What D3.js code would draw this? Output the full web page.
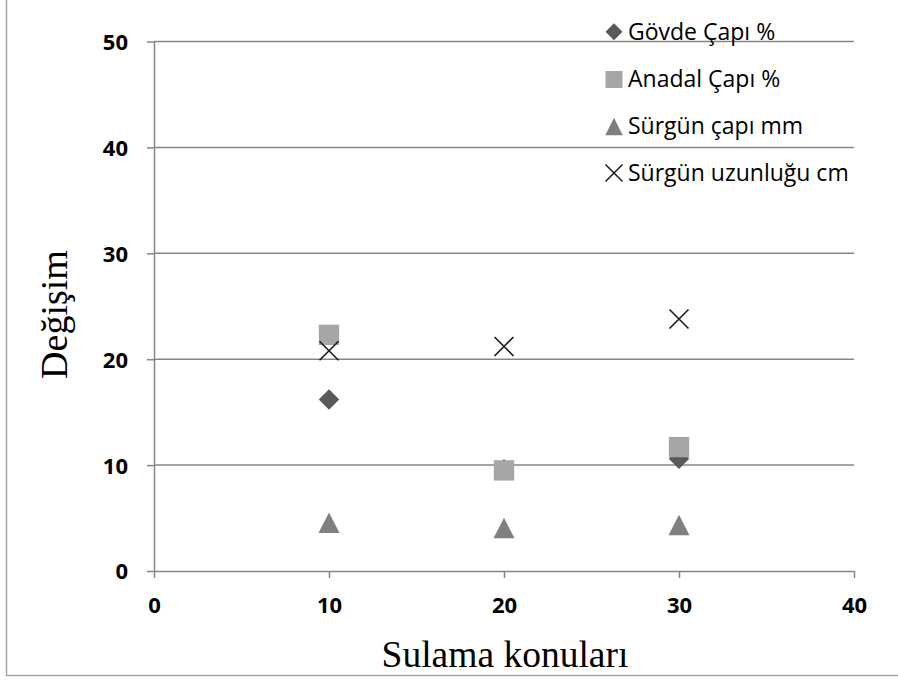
<!DOCTYPE html>
<html><head><meta charset="utf-8">
<script src="https://cdn.jsdelivr.net/npm/d3@7"></script>
<style>body{margin:0;background:#fff}svg{display:block}</style>
</head><body>
<svg id="c" width="898" height="682"></svg>
<script>
const xCats = [10, 20, 30];
const govde = [16.2, 9.6, 10.6];
const anadal = [22.3, 9.5, 11.7];
const surgunCap = [4.56, 4.05, 4.35];
const surgunUzun = [20.8, 21.2, 23.8];
const xTicks = [0, 10, 20, 30, 40];
const yTicks = [0, 10, 20, 30, 40, 50];
const seriesNames = ["Gövde Çapı %", "Anadal Çapı %", "Sürgün çapı mm", "Sürgün uzunluğu cm"];

const svg = d3.select("#c");
const x = d3.scaleLinear().domain([0, 40]).range([154, 854]);
const y = d3.scaleLinear().domain([0, 50]).range([571, 41.5]);

// outer border
svg.append("path").attr("d","M6.5,0 V675.5 H898").attr("fill","none").attr("stroke","#a6a6a6").attr("stroke-width",1.5);

// gridlines
svg.append("g").selectAll("line").data(yTicks.filter(d=>d>0)).join("line")
  .attr("x1", x(0)).attr("x2", x(40)).attr("y1", d=>y(d)).attr("y2", d=>y(d))
  .attr("stroke","#868686").attr("stroke-width",1.5);

const font = "'Open Sans', 'Liberation Sans', sans-serif";
const yAxis = svg.append("g").attr("transform",`translate(${x(0)},0)`)
  .call(d3.axisLeft(y).tickValues(yTicks).tickSize(7).tickPadding(19).tickSizeOuter(0));
const xAxis = svg.append("g").attr("transform",`translate(0,${y(0)})`)
  .call(d3.axisBottom(x).tickValues(xTicks).tickSize(7).tickSizeOuter(0));
[yAxis, xAxis].forEach(a=>{
  a.select(".domain").attr("stroke","#868686").attr("stroke-width",1.5);
  a.selectAll(".tick line").attr("stroke","#868686").attr("stroke-width",1.5);
  a.selectAll("text").attr("font-family",font).attr("font-weight","bold").attr("font-size",22).attr("fill","#000");
});
yAxis.selectAll("text").attr("dy","0.36em");
xAxis.selectAll("text").attr("y",41.5).attr("dy","0");

const g = svg.append("g");
const triPath = (w,h) => `M0,${-h/2}L${w/2},${h/2}L${-w/2},${h/2}Z`;
g.selectAll(".dia").data(xCats).join("path")
  .attr("d", d3.symbol().type(d3.symbolDiamond2).size(268)())
  .attr("transform",(d,i)=>`translate(${x(d)},${y(govde[i])})`).attr("fill","#595959");
g.selectAll(".sq").data(xCats).join("path")
  .attr("d", d3.symbol().type(d3.symbolSquare).size(415)())
  .attr("transform",(d,i)=>`translate(${x(d)},${y(anadal[i])})`).attr("fill","#a6a6a6");
g.selectAll(".tri").data(xCats).join("path")
  .attr("d", triPath(21,20.5))
  .attr("transform",(d,i)=>`translate(${x(d)},${y(surgunCap[i])})`).attr("fill","#7f7f7f");
g.selectAll(".x").data(xCats).join("path")
  .attr("d","M-9.5,-9.5L9.5,9.5M-9.5,9.5L9.5,-9.5")
  .attr("transform",(d,i)=>`translate(${x(d)},${y(surgunUzun[i])})`).attr("fill","none").attr("stroke","#1a1a1a").attr("stroke-width",1.6);

// legend
const leg = svg.append("g");
const ly = [31.7, 79.5, 126.5, 173];
const lx = 614;
leg.append("path").attr("d", d3.symbol().type(d3.symbolDiamond2).size(184)()).attr("transform",`translate(${lx},${ly[0]})`).attr("fill","#595959");
leg.append("path").attr("d", d3.symbol().type(d3.symbolSquare).size(290)()).attr("transform",`translate(${lx},${ly[1]})`).attr("fill","#a6a6a6");
leg.append("path").attr("d", triPath(17.5,17.5)).attr("transform",`translate(${lx},${ly[2]})`).attr("fill","#7f7f7f");
leg.append("path").attr("d","M-8.5,-8.5L8.5,8.5M-8.5,8.5L8.5,-8.5").attr("transform",`translate(${lx},${ly[3]})`).attr("fill","none").attr("stroke","#1a1a1a").attr("stroke-width",1.5);
leg.selectAll("text").data(seriesNames).join("text")
  .attr("x", 628).attr("y",(d,i)=>ly[i]+7.8)
  .attr("font-family",font).attr("font-size",23).attr("fill","#000").text(d=>d);

// axis titles
svg.append("text").attr("transform","translate(67,314.5) rotate(-90)").attr("text-anchor","middle")
  .attr("font-family","'Liberation Serif','Times New Roman',serif").attr("font-size",38).text("Değişim");
svg.append("text").attr("x",505).attr("y",667).attr("text-anchor","middle")
  .attr("font-family","'Liberation Serif','Times New Roman',serif").attr("font-size",37.5).text("Sulama konuları");
</script>
</body></html>
